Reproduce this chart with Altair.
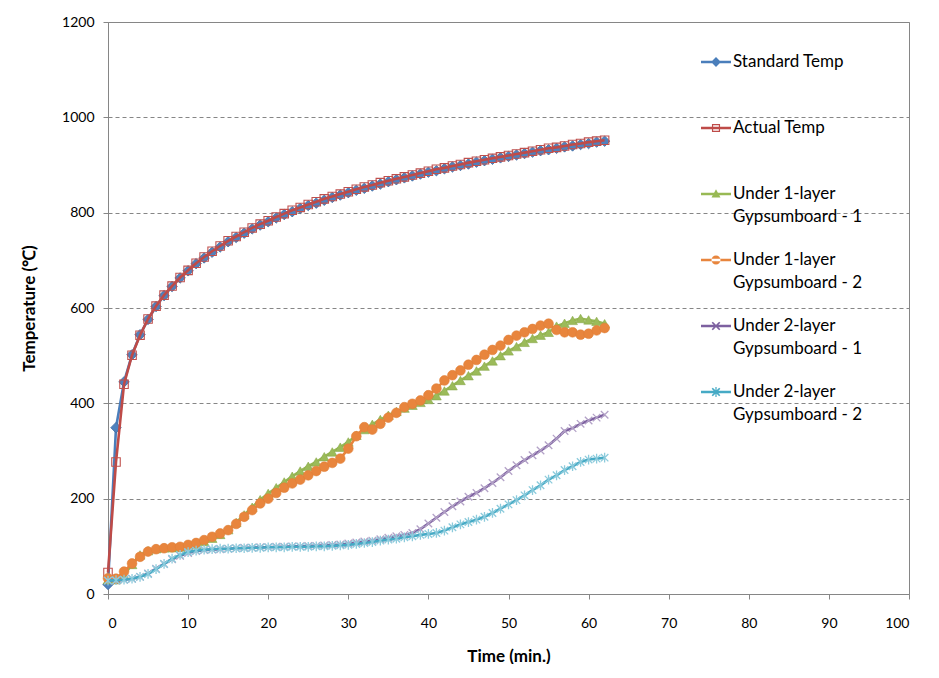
import altair as alt
import pandas as pd

# ---------------- data ----------------
minutes = list(range(0, 63))

standard_temp = [20, 349, 445, 502, 544, 576, 603, 626, 645, 663,
                 678, 693, 705, 717, 728, 739, 748, 757, 766, 774,
                 781, 789, 796, 802, 809, 815, 820, 826, 832, 837,
                 842, 847, 851, 856, 860, 865, 869, 873, 877, 881,
                 885, 888, 892, 896, 899, 902, 906, 909, 912, 915,
                 918, 921, 924, 927, 930, 932, 935, 938, 940, 943,
                 945, 948, 950]

actual_temp = [45, 277, 440, 501, 543, 577, 604, 627, 646, 664,
               679, 694, 707, 719, 730, 741, 750, 759, 768, 776,
               783, 791, 798, 805, 811, 817, 823, 829, 834, 839,
               844, 849, 854, 858, 863, 867, 871, 875, 879, 883,
               887, 891, 894, 898, 901, 905, 908, 911, 914, 917,
               920, 923, 926, 929, 932, 935, 937, 940, 943, 945,
               948, 950, 952]

one_layer_1 = [30, 30, 40, 62, 82, 91, 95, 97, 97, 98,
               100, 104, 110, 117, 125, 135, 150, 166, 182, 198,
               211, 223, 235, 247, 258, 268, 277, 288, 298, 308,
               319, 333, 345, 356, 366, 375, 383, 390, 396, 402,
               408, 416, 426, 437, 448, 458, 468, 478, 489, 500,
               510, 519, 528, 536, 543, 549, 562, 568, 574, 578,
               575, 572, 567]

one_layer_2 = [33, 32, 47, 64, 78, 89, 94, 96, 98, 99,
               103, 107, 113, 120, 127, 134, 147, 162, 176, 190,
               200, 212, 223, 232, 240, 249, 258, 267, 275, 284,
               305, 331, 350, 345, 357, 370, 380, 392, 399, 406,
               417, 431, 448, 459, 469, 481, 491, 502, 512, 521,
               533, 542, 549, 556, 563, 567, 554, 549, 549, 544,
               546, 553, 558]

two_layer_1 = [28, 28, 30, 32, 36, 43, 53, 63, 73, 80,
               86, 90, 92, 93, 94, 95, 96, 97, 97, 98,
               98, 99, 99, 100, 100, 101, 101, 102, 103, 104,
               106, 108, 110, 112, 115, 118, 121, 124, 128, 136,
               148, 160, 172, 184, 194, 204, 212, 222, 233, 245,
               258, 270, 281, 291, 301, 312, 326, 342, 348, 357,
               364, 370, 376]

two_layer_2 = [28, 29, 30, 32, 36, 42, 52, 63, 74, 82,
               88, 91, 93, 94, 95, 95, 96, 96, 97, 97,
               98, 98, 98, 99, 99, 99, 100, 100, 101, 102,
               103, 105, 107, 109, 112, 114, 116, 119, 121, 124,
               126, 128, 133, 140, 146, 151, 156, 162, 170, 179,
               188, 197, 207, 218, 228, 240, 249, 260, 268, 277,
               282, 284, 286]

series_names = ["Standard Temp", "Actual Temp",
                "Under 1-layer Gypsumboard - 1", "Under 1-layer Gypsumboard - 2",
                "Under 2-layer Gypsumboard - 1", "Under 2-layer Gypsumboard - 2"]
legend_second_lines = [" ", " ", "Gypsumboard - 1", "Gypsumboard - 2",
                       "Gypsumboard - 1", "Gypsumboard - 2"]
legend_rows = [0, 1, 2, 3, 4, 5]

x_ticks = [0, 10, 20, 30, 40, 50, 60, 70, 80, 90, 100]
y_ticks = [0, 200, 400, 600, 800, 1000, 1200]

# ---------------- styles ----------------
FONT = "Lato"
GRAY = "#868686"
line_colors = ["#4A7EBB", "#BE4B48", "#98B954", "#E8853D", "#7D60A0", "#46AAC5"]

X_PATH = "M-1,-1L1,1M1,-1L-1,1"
STAR_PATH = "M-1,-1L1,1M1,-1L-1,1M0,-1.3L0,1.3"

marker_styles = [
    dict(shape="diamond", size=110, filled=True, fill="#4F81BD", stroke="#3C6CA3", strokeWidth=0.8),
    dict(shape="square", size=72, filled=False, stroke="#C0504D", strokeWidth=1.1),
    dict(shape="triangle-up", size=95, filled=True, fill="#9BBB59", stroke="#8AAA4C", strokeWidth=0.6),
    dict(shape="circle", size=95, filled=True, fill="#E8853D", stroke="#E07F38", strokeWidth=0.6),
    dict(shape=X_PATH, size=56, filled=False, stroke="#B3A2C7", strokeWidth=1.3),
    dict(shape=STAR_PATH, size=56, filled=False, stroke="#8CCBDC", strokeWidth=1.3),
]

BAR = "M-1,-0.085H1V0.085H-1Z"
legend_paths = [
    BAR + "M0,-0.33L0.33,0L0,0.33L-0.33,0Z",
    BAR + "M-0.27,-0.27H0.27V0.27H-0.27ZM-0.19,-0.19V0.19H0.19V-0.19Z",
    BAR + "M0,-0.32L0.3,0.24L-0.3,0.24Z",
    BAR + "M-0.3,0A0.3,0.3,0,1,0,0.3,0A0.3,0.3,0,1,0,-0.3,0Z",
    BAR + "M-0.29,-0.21L-0.21,-0.29L0.29,0.21L0.21,0.29ZM0.21,-0.29L0.29,-0.21L-0.21,0.29L-0.29,0.21Z",
    BAR + "M-0.29,-0.21L-0.21,-0.29L0.29,0.21L0.21,0.29ZM0.21,-0.29L0.29,-0.21L-0.21,0.29L-0.29,0.21Z"
          "M-0.04,-0.33H0.04V0.33H-0.04Z",
]

# ---------------- table ----------------
records = []
for name, values in zip(series_names, [standard_temp, actual_temp, one_layer_1,
                                       one_layer_2, two_layer_1, two_layer_2]):
    for t, v in zip(minutes, values):
        records.append({"series": name, "time": t, "temp": v})
df = pd.DataFrame(records)

x_enc = alt.X("time:Q",
              scale=alt.Scale(domain=[0, 100], nice=False),
              axis=alt.Axis(values=x_ticks, title="Time (min.)", grid=False, format="d",
                            labelPadding=17, titleY=62, titleBaseline="middle"))
y_enc = alt.Y("temp:Q",
              scale=alt.Scale(domain=[0, 1200], nice=False),
              axis=alt.Axis(values=y_ticks, title="Temperature (℃)", grid=True, format="d",
                            gridDash=[4, 3], gridColor=GRAY, labelPadding=9,
                            titleX=-70, titleY=286, titleBaseline="bottom"))

base = alt.Chart(df)
layers = []
for name, color, style in zip(series_names, line_colors, marker_styles):
    sub = base.transform_filter(alt.datum.series == name)
    layers.append(sub.mark_line(color=color, strokeWidth=2.6).encode(x=x_enc, y=y_enc))
    layers.append(sub.mark_point(opacity=1, **style).encode(x=x_enc, y=y_enc))

LEG_X = 593
LEG_Y = 25
ROW_PAD = 43

legend_main = alt.Legend(
    title=None, orient="none", legendX=LEG_X, legendY=LEG_Y, direction="vertical",
    symbolSize=900, symbolStrokeWidth=0, symbolOpacity=1,
    labelFont=FONT, labelFontSize=17, labelColor="black", labelBaseline="middle",
    labelOffset=2, rowPadding=ROW_PAD, labelLimit=400, padding=0,
    labelExpr="split(datum.label, ' Gypsumboard')[0]")

legend_second = alt.Legend(
    title=None, orient="none", legendX=LEG_X, legendY=LEG_Y + 23, direction="vertical",
    symbolSize=900, symbolStrokeWidth=0, symbolOpacity=0, symbolType="stroke",
    labelFont=FONT, labelFontSize=17, labelColor="black", labelBaseline="middle",
    labelOffset=2, rowPadding=ROW_PAD, labelLimit=400, padding=0,
    labelExpr="%s[datum.value]" % str(legend_second_lines))

legend_layer = base.transform_filter("false").mark_point(filled=True, opacity=1).encode(
    x=x_enc, y=y_enc,
    color=alt.Color("series:N", scale=alt.Scale(domain=series_names, range=line_colors),
                    legend=legend_main),
    shape=alt.Shape("series:N", scale=alt.Scale(domain=series_names, range=legend_paths),
                    legend=legend_main),
    strokeDash=alt.StrokeDash("row:O", scale=alt.Scale(domain=legend_rows, range=[[1, 0]] * 6),
                              legend=legend_second),
)
layers.append(legend_layer)

chart = alt.layer(*layers).properties(
    width=801, height=572,
    padding={"left": 100, "top": 14, "right": 22, "bottom": 70},
    autosize=alt.AutoSizeParams(type="none"),
    background="white",
).configure_view(
    stroke=GRAY, strokeWidth=1
).configure_axis(
    labelFont=FONT, labelFontSize=14, labelColor="black",
    titleFont=FONT, titleFontSize=17, titleFontWeight="bold", titleColor="black",
    domainColor=GRAY, tickColor=GRAY, tickSize=5, domainWidth=1, tickWidth=1
)

chart.save("out.html", embed_options={"renderer": "svg", "actions": False})
